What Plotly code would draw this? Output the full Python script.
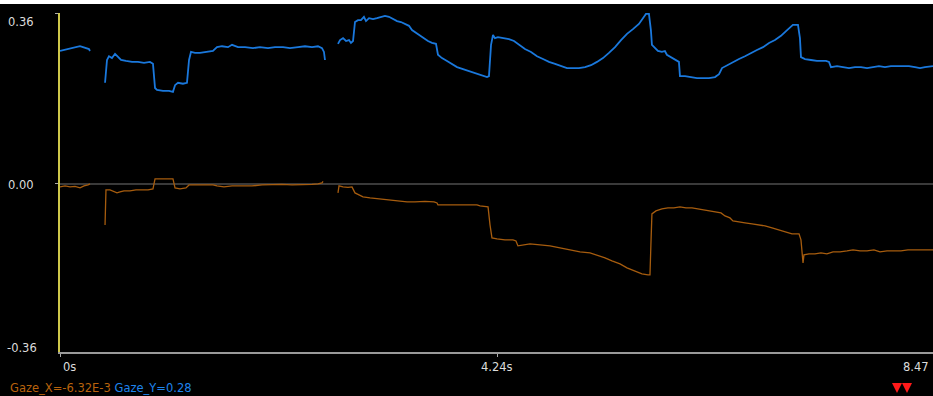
import plotly.graph_objects as go

# Gaze_Y samples (time in s, value); None splits the trace where tracking dropped out
gaze_y_t = [
    0.0, 0.039, 0.078, 0.116, 0.155, 0.194, 0.223, 0.252, 0.281, 0.291, None,
    0.437, 0.456, 0.475, 0.504, 0.534, 0.563, 0.592, 0.640, 0.699, 0.757, 0.815, 0.873, 0.902,
    0.922, 0.941, 0.999, 1.058, 1.096, 1.116, 1.145, 1.193, 1.232, 1.252, 1.271, 1.310, 1.358,
    1.416, 1.484, 1.523, 1.572, 1.630, 1.669, 1.727, 1.795, 1.872, 1.940, 2.018, 2.086, 2.164,
    2.231, 2.309, 2.377, 2.445, 2.503, 2.542, 2.561, 2.571, None,
    2.697, 2.717, 2.746, 2.775, 2.804, 2.823, 2.843, 2.862, 2.891, 2.920, 2.949, 2.969, 2.998,
    3.037, 3.075, 3.114, 3.153, 3.192, 3.231, 3.270, 3.308, 3.347, 3.386, 3.415, 3.454, 3.493,
    3.532, 3.570, 3.609, 3.648, 3.667, 3.706, 3.755, 3.803, 3.852, 3.910, 3.968, 4.026, 4.085,
    4.143, 4.162, 4.182, 4.201, 4.220, 4.249, 4.298, 4.356, 4.405, 4.453, 4.511, 4.570, 4.628,
    4.686, 4.744, 4.803, 4.861, 4.919, 4.977, 5.035, 5.094, 5.152, 5.210, 5.268, 5.326, 5.385,
    5.443, 5.501, 5.559, 5.617, 5.666, 5.685, 5.714, 5.733, 5.743, 5.772, 5.801, 5.840, 5.869,
    5.888, 5.927, 5.976, 6.005, 6.015, 6.064, 6.122, 6.180, 6.238, 6.297, 6.355, 6.394, 6.423,
    6.471, 6.529, 6.588, 6.646, 6.704, 6.762, 6.821, 6.879, 6.937, 6.995, 7.044, 7.082, 7.111,
    7.160, 7.179, 7.189, 7.228, 7.286, 7.344, 7.432, 7.461, 7.480, 7.539, 7.597, 7.655, 7.713,
    7.771, 7.830, 7.888, 7.946, 8.004, 8.062, 8.121, 8.179, 8.237, 8.295, 8.344, 8.392, 8.441,
    8.47,
]
gaze_y_v = [
    0.28, 0.282, 0.284, 0.286, 0.288, 0.290, 0.288, 0.286, 0.284, 0.280, None,
    0.213, 0.261, 0.269, 0.265, 0.274, 0.267, 0.261, 0.259, 0.257, 0.257, 0.255, 0.257, 0.253,
    0.202, 0.198, 0.196, 0.196, 0.194, 0.208, 0.213, 0.211, 0.213, 0.261, 0.278, 0.276, 0.276,
    0.278, 0.280, 0.288, 0.290, 0.288, 0.293, 0.288, 0.288, 0.286, 0.288, 0.286, 0.288, 0.288,
    0.286, 0.288, 0.290, 0.288, 0.290, 0.286, 0.278, 0.261, None,
    0.295, 0.303, 0.307, 0.301, 0.303, 0.297, 0.301, 0.341, 0.345, 0.345, 0.352, 0.343, 0.349,
    0.347, 0.349, 0.352, 0.354, 0.352, 0.347, 0.343, 0.341, 0.337, 0.333, 0.324, 0.318, 0.312,
    0.307, 0.301, 0.297, 0.295, 0.272, 0.265, 0.259, 0.253, 0.246, 0.242, 0.238, 0.234, 0.229,
    0.225, 0.227, 0.293, 0.314, 0.307, 0.309, 0.307, 0.305, 0.301, 0.293, 0.284, 0.278, 0.269,
    0.263, 0.257, 0.253, 0.248, 0.244, 0.244, 0.244, 0.246, 0.250, 0.257, 0.265, 0.276, 0.288,
    0.303, 0.316, 0.326, 0.337, 0.352, 0.358, 0.358, 0.324, 0.293, 0.286, 0.280, 0.278, 0.280,
    0.272, 0.267, 0.261, 0.257, 0.227, 0.227, 0.225, 0.223, 0.223, 0.223, 0.225, 0.231, 0.244,
    0.250, 0.257, 0.263, 0.269, 0.276, 0.282, 0.288, 0.297, 0.303, 0.312, 0.322, 0.330, 0.335,
    0.335, 0.307, 0.267, 0.263, 0.261, 0.259, 0.259, 0.257, 0.246, 0.248, 0.246, 0.244, 0.246,
    0.246, 0.244, 0.246, 0.248, 0.246, 0.248, 0.248, 0.248, 0.248, 0.246, 0.244, 0.246, 0.248,
    0.248,
]

# Gaze_X samples (time in s, value)
gaze_x_t = [
    0.0, 0.049, 0.097, 0.146, 0.194, 0.233, 0.272, 0.291, None,
    0.437, 0.446, 0.485, 0.524, 0.553, 0.582, 0.621, 0.679, 0.737, 0.796, 0.854, 0.902, 0.922,
    0.970, 1.048, 1.096, 1.116, 1.164, 1.222, 1.252, 1.319, 1.397, 1.484, 1.523, 1.591, 1.669,
    1.766, 1.863, 1.960, 2.057, 2.154, 2.251, 2.348, 2.445, 2.503, 2.542, 2.552, None,
    2.697, 2.707, 2.746, 2.794, 2.833, 2.862, 2.901, 2.940, 3.008, 3.105, 3.202, 3.299, 3.367,
    3.444, 3.541, 3.629, 3.658, 3.667, 3.784, 3.929, 4.046, 4.075, 4.153, 4.172, 4.191, 4.240,
    4.317, 4.395, 4.424, 4.443, 4.492, 4.560, 4.657, 4.754, 4.851, 4.948, 5.045, 5.142, 5.210,
    5.288, 5.355, 5.433, 5.501, 5.579, 5.646, 5.705, 5.724, 5.733, 5.743, 5.782, 5.840, 5.898,
    5.956, 6.015, 6.073, 6.132, 6.190, 6.248, 6.306, 6.364, 6.413, 6.452, 6.500, 6.529, 6.578,
    6.646, 6.714, 6.782, 6.840, 6.908, 6.976, 7.034, 7.102, 7.170, 7.189, 7.209, 7.218, 7.267,
    7.325, 7.383, 7.441, 7.500, 7.568, 7.636, 7.694, 7.762, 7.830, 7.897, 7.956, 8.024, 8.092,
    8.159, 8.227, 8.295, 8.363, 8.421, 8.47,
]
gaze_x_v = [
    -0.00632, -0.0042, -0.0063, -0.0053, -0.0084, -0.0042, -0.0021, 0.0, None,
    -0.0863, -0.0126, -0.0126, -0.0168, -0.0189, -0.0168, -0.0147, -0.0147, -0.0126, -0.0126,
    -0.0126, -0.0105, 0.0105, 0.0105, 0.0105, 0.0105, -0.0084, -0.0105, -0.0084, -0.0021,
    -0.0021, -0.0021, -0.0021, -0.0042, -0.0063, -0.0042, -0.0042, -0.0042, -0.0021, -0.0011,
    -0.0011, -0.0021, -0.0021, -0.0011, 0.0, 0.0021, 0.0053, None,
    -0.0189, -0.0042, -0.0063, -0.0074, -0.0063, -0.0189, -0.0232, -0.0274, -0.0295, -0.0316,
    -0.0337, -0.0358, -0.0379, -0.0379, -0.0368, -0.0379, -0.0400, -0.0442, -0.0442, -0.0442,
    -0.0442, -0.0463, -0.0484, -0.0863, -0.1137, -0.1158, -0.1179, -0.1179, -0.1200, -0.1305,
    -0.1284, -0.1263, -0.1284, -0.1305, -0.1347, -0.1389, -0.1431, -0.1452, -0.1495, -0.1558,
    -0.1621, -0.1684, -0.1768, -0.1831, -0.1894, -0.1916, -0.1916, -0.1284, -0.0632, -0.0568,
    -0.0526, -0.0505, -0.0505, -0.0484, -0.0505, -0.0505, -0.0526, -0.0547, -0.0568, -0.0589,
    -0.0610, -0.0674, -0.0716, -0.0779, -0.0800, -0.0821, -0.0842, -0.0863, -0.0884, -0.0926,
    -0.0968, -0.1011, -0.1053, -0.1053, -0.1179, -0.1663, -0.1495, -0.1474, -0.1474, -0.1453,
    -0.1474, -0.1431, -0.1431, -0.1410, -0.1389, -0.1410, -0.1410, -0.1389, -0.1431, -0.1410,
    -0.1410, -0.1410, -0.1389, -0.1389, -0.1389, -0.1389, -0.1389,
]

x_tick_vals = [0.0, 4.24, 8.47]
x_tick_text = ["0s", "4.24s", "8.47"]
y_tick_vals = [0.36, 0.0, -0.36]
y_tick_text = ["0.36", "0.00", "-0.36"]
legend_names = ["Gaze_X", "Gaze_Y"]
legend_values = ["-6.32E-3", "0.28"]

X_COLOR = "#a65c0e"
X_TEXT = "#b8620c"
Y_COLOR = "#1a78dc"
Y_TEXT = "#1e84ec"
FONT = "DejaVu Sans"

W, H = 933, 396
ML, MR, MT, MB = 60, 0, 13, 44
PW, PH = W - ML - MR, H - MT - MB


def px(x):
    return (x - ML) / PW


def py(y):
    return (H - MB - y) / PH


fig = go.Figure()
fig.add_trace(go.Scatter(x=gaze_x_t, y=gaze_x_v, mode="lines", name=legend_names[0],
                         line=dict(color=X_COLOR, width=1.3), connectgaps=False))
fig.add_trace(go.Scatter(x=gaze_y_t, y=gaze_y_v, mode="lines", name=legend_names[1],
                         line=dict(color=Y_COLOR, width=1.8), connectgaps=False))

annotations = []
# y labels sit inside the span: top label below its tick, bottom label above it
y_label_pos = [(6, 22), (6, 185), (5, 348)]
for txt, (lx, ly) in zip(y_tick_text, y_label_pos):
    annotations.append(dict(text=txt, x=px(lx), y=py(ly), xref="paper", yref="paper",
                            xanchor="left", yanchor="middle", showarrow=False,
                            font=dict(family=FONT, size=11.5, color="#dcdcdc")))
x_label_pos = [(61, "left"), (497, "center"), (931, "right")]
for txt, (lx, anchor) in zip(x_tick_text, x_label_pos):
    annotations.append(dict(text=txt, x=px(lx), y=py(367), xref="paper", yref="paper",
                            xanchor=anchor, yanchor="middle", showarrow=False,
                            font=dict(family=FONT, size=11.5, color="#dcdcdc")))
legend_html = (f'<span style="color:{X_TEXT}">{legend_names[0]}={legend_values[0]}</span> '
               f'<span style="color:{Y_TEXT}">{legend_names[1]}={legend_values[1]}</span>')
annotations.append(dict(text=legend_html, x=px(8), y=py(388), xref="paper", yref="paper",
                        xanchor="left", yanchor="middle", showarrow=False,
                        font=dict(family=FONT, size=11.5)))

shapes = [
    # thin white frame strip along the top edge
    dict(type="rect", xref="paper", yref="paper", x0=px(0), x1=px(W), y0=py(4), y1=py(0),
         fillcolor="white", line=dict(width=0), layer="above"),
]
# red marker pair at the lower right
for cx in (897, 907):
    path = (f"M {px(cx - 5)} {py(383)} L {px(cx + 5)} {py(383)} "
            f"L {px(cx)} {py(393)} Z")
    shapes.append(dict(type="path", xref="paper", yref="paper", path=path,
                       fillcolor="#ff1a1a", line=dict(width=0), layer="above"))

fig.update_layout(
    width=W, height=H,
    margin=dict(l=ML, r=MR, t=MT, b=MB, pad=0),
    paper_bgcolor="black", plot_bgcolor="black",
    showlegend=False,
    annotations=annotations,
    shapes=shapes,
    xaxis=dict(range=[0, 8.47], showgrid=False, zeroline=False, showticklabels=False,
               showline=True, linecolor="#9a9a9a", linewidth=2,
               ticks="outside", tickvals=x_tick_vals[:2], ticklen=3, tickwidth=1,
               tickcolor="#aaaaaa", fixedrange=True),
    yaxis=dict(range=[-0.354, 0.36], showgrid=False, showticklabels=False,
               zeroline=True, zerolinecolor="#3a3a3a", zerolinewidth=2,
               showline=True, linecolor="#cfc84a", linewidth=2,
               ticks="outside", tickvals=y_tick_vals[:2], ticklen=3, tickwidth=1,
               tickcolor="#aaaaaa", fixedrange=True),
)

fig.write_html("out.html", config={"displayModeBar": False})
